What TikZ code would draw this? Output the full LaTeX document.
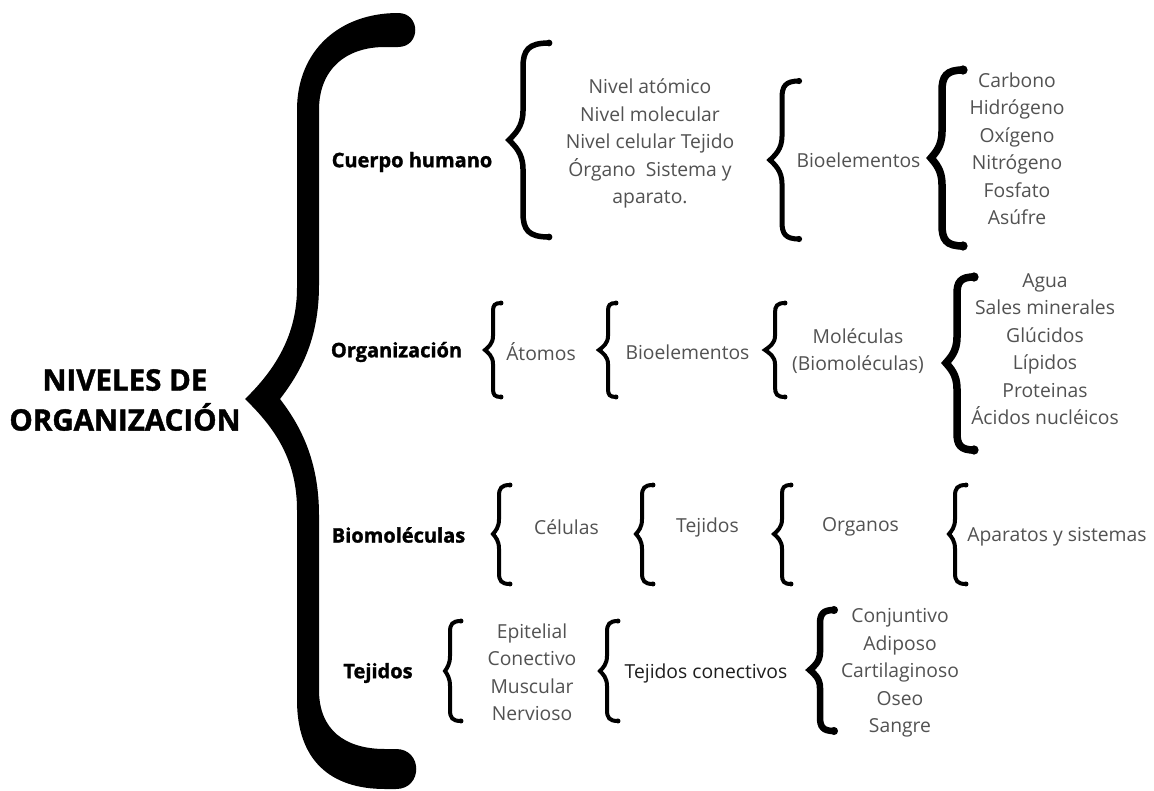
\documentclass[tikz,border=0pt]{standalone}
\usepackage{fontspec}
\setmainfont{Open Sans}
\newfontfamily\heavyfont[BoldFeatures={FakeBold=1.4}]{Open Sans}
\definecolor{txtgray}{HTML}{525252}
\definecolor{txtdark}{HTML}{1E1E1E}
\newcommand{\curlyb}[7]{%
  \pgfmathsetmacro\cbr{min(#3-#2,0.25*(#5-#4))}%
  \pgfmathsetmacro\cbs{0.3*(#5-#4)}%
  \draw[line width=#7pt, line cap=round, line join=miter]
    (#3,#4) .. controls ({#2+0.2*(#3-#2)},#4) and (#2,{#4+0.3*\cbr}) .. (#2,{#4+\cbr})
    -- (#2,{#5-\cbs})
    .. controls (#2,{#5-0.45*\cbs}) and ({#1+0.4*(#2-#1)},{#5-0.2*\cbs}) .. (#1,#5)
    .. controls ({#1+0.4*(#2-#1)},{#5+0.2*\cbs}) and (#2,{#5+0.45*\cbs}) .. (#2,{#5+\cbs})
    -- (#2,{#6-\cbr})
    .. controls (#2,{#6-0.3*\cbr}) and ({#2+0.2*(#3-#2)},#6) .. (#3,#6);
  \fill (#3,#4) circle[radius={0.62*#7}];
  \fill (#3,#6) circle[radius={0.62*#7}];
}
\tikzset{
  itm/.style={inner sep=0pt, text=txtgray, font=\fontsize{19.3}{27.5}\selectfont, align=center},
  itmdark/.style={itm, text=txtdark},
  lbl/.style={inner sep=0pt, text=black, font=\heavyfont\bfseries\fontsize{20}{24}\selectfont},
  ttl/.style={inner sep=0pt, text=black, font=\heavyfont\bfseries\fontsize{29.5}{40}\selectfont, align=center}
}
\begin{document}
\begin{tikzpicture}[x=1pt,y=-1pt]
\useasboundingbox[fill=white] (0,0) rectangle (1154,790);

% big brace
\fill[black] (398,13)
  .. controls (340,13) and (297,50) .. (297,110)
  -- (297,288)
  .. controls (297,335) and (275,370) .. (245,399)
  .. controls (275,428) and (297,460) .. (297,510)
  -- (297,700)
  .. controls (297,760) and (330,789) .. (385,789)
  -- (396,789)
  .. controls (423,789) and (423,749) .. (396,749)
  -- (385,749)
  .. controls (345,749) and (319,730) .. (319,690)
  -- (319,515)
  .. controls (319,460) and (300,425) .. (280,399)
  .. controls (300,373) and (319,340) .. (319,285)
  -- (319,110)
  .. controls (319,70) and (345,47) .. (385,47)
  -- (398,47)
  .. controls (421,47) and (421,13) .. (398,13)
  -- cycle;

% title
\node[ttl] (title) at (125,400) {NIVELES DE\\ORGANIZACIÓN};

% row labels
\node[lbl] (cuerpo) at (412,162) {Cuerpo humano};
\node[lbl] (organiz) at (396.5,352) {Organización};
\node[lbl] (biomol) at (398.5,535) {Biomoléculas};
\node[lbl] (tejidos) at (378,673) {Tejidos};

% small braces: tip, vertical, end, top, mid, bottom, width
\curlyb{509}{523}{549}{43}{140}{237}{5.5}
\curlyb{770}{782}{799}{81}{160}{239}{5}
\curlyb{931}{942}{963}{70}{158}{246}{7.5}
\curlyb{485}{493}{501}{303}{350}{397}{4}
\curlyb{599}{608}{616}{303}{350}{397}{4}
\curlyb{765}{775}{785}{303}{350}{397}{4}
\curlyb{946}{957}{974}{277}{363}{450}{7.5}
\curlyb{493}{499}{510}{485}{534}{584}{4}
\curlyb{636}{642}{653}{485}{534}{584}{4}
\curlyb{774}{782}{791}{485}{534}{584}{4}
\curlyb{949}{955}{966}{485}{534}{584}{4}
\curlyb{445}{450}{461}{621}{671}{721}{4}
\curlyb{600}{607}{618}{621}{671}{721}{4}
\curlyb{810}{820}{834}{610}{670}{731}{6.5}

% texts row 1
\node[itm] (niveles) at (650,143.5) {Nivel atómico\\Nivel molecular\\Nivel celular Tejido\\Órgano\ \ Sistema y\\aparato.};
\node[itm] (bioel1) at (858.5,160) {Bioelementos};
\node[itm] (elem) at (1017,149) {Carbono\\Hidrógeno\\Oxígeno\\Nitrógeno\\Fosfato\\Asúfre};

% row 2
\node[itm] (atomos) at (541,352) {Átomos};
\node[itm] (bioel2) at (687.5,352) {Bioelementos};
\node[itm] (molec) at (858,351) {Moléculas\\(Biomoléculas)};
\node[itm] (agua) at (1045,349) {Agua\\Sales minerales\\Glúcidos\\Lípidos\\Proteinas\\Ácidos nucléicos};

% row 3
\node[itm] (celulas) at (566.5,527) {Células};
\node[itm] (tej3) at (707.5,527) {Tejidos};
\node[itm] (organos) at (860.5,527) {Organos};
\node[itm] (aparatos) at (1057,537) {Aparatos y sistemas};

% row 4
\node[itm] (epit) at (532,672.5) {Epitelial\\Conectivo\\Muscular\\Nervioso};
\node[itmdark] (tejcon) at (706,673) {Tejidos conectivos};
\node[itm] (conj) at (900,673) {Conjuntivo\\Adiposo\\Cartilaginoso\\Oseo\\Sangre};
\end{tikzpicture}
\end{document}
